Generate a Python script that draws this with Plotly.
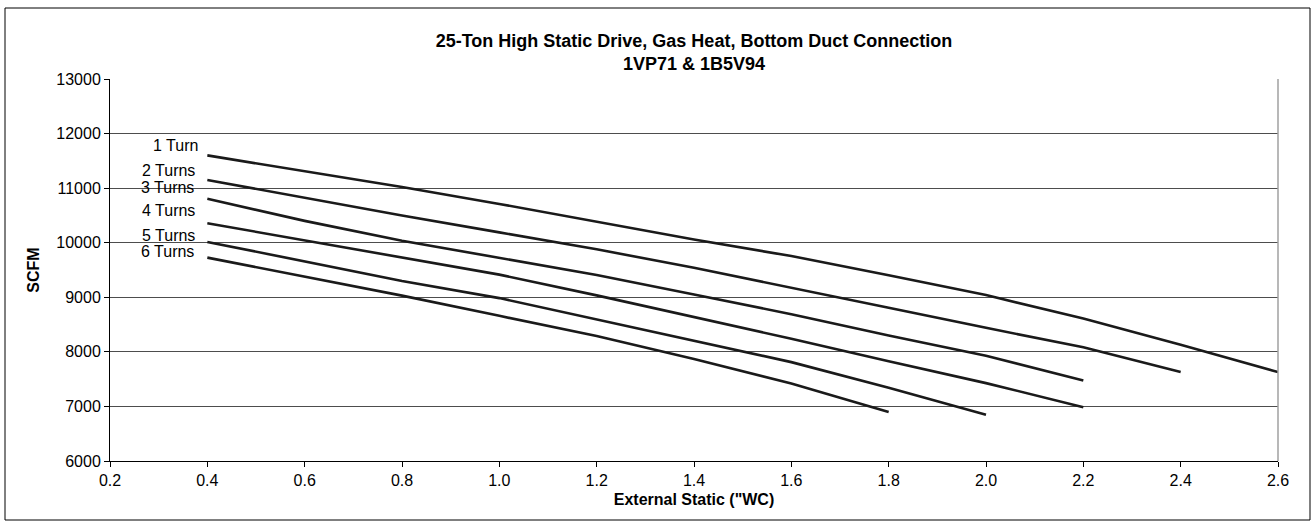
import plotly.graph_objects as go

# ---- data ----
static_wc = [0.4, 0.6, 0.8, 1.0, 1.2, 1.4, 1.6, 1.8, 2.0, 2.2, 2.4, 2.6]

turn1 = [11600, 11310, 11020, 10710, 10390, 10060, 9755, 9405, 9040, 8610, 8130, 7630]
turn2 = [11150, 10820, 10500, 10190, 9880, 9540, 9180, 8810, 8440, 8085, 7630]
turn3 = [10805, 10400, 10035, 9725, 9410, 9050, 8690, 8300, 7927, 7475]
turn4 = [10357, 10045, 9730, 9415, 9035, 8640, 8240, 7826, 7427, 6987]
turn5 = [10015, 9660, 9300, 8985, 8592, 8195, 7812, 7341, 6846]
turn6 = [9727, 9380, 9030, 8660, 8290, 7870, 7420, 6896]

series_names = ["1 Turn", "2 Turns", "3 Turns", "4 Turns", "5 Turns", "6 Turns"]
series_values = [turn1, turn2, turn3, turn4, turn5, turn6]

x_ticks = [0.2, 0.4, 0.6, 0.8, 1.0, 1.2, 1.4, 1.6, 1.8, 2.0, 2.2, 2.4, 2.6]
y_ticks = [6000, 7000, 8000, 9000, 10000, 11000, 12000, 13000]

title_line1 = "25-Ton High Static Drive, Gas Heat, Bottom Duct Connection"
title_line2 = "1VP71 & 1B5V94"
x_title = "External Static (\"WC)"
y_title = "SCFM"

# ---- styling / layout ----
W, H = 1315, 527
L, R, T, B = 110, 1278, 79, 461  # plot area in pixels
FONT = "Arial, Liberation Sans, sans-serif"

label_yshift = [10, 9, 11, 13, 6, 6]
label_xshift = [-7, -10, -11, -10, -10, -11]

fig = go.Figure()
for name, vals, ys, xs in zip(series_names, series_values, label_yshift, label_xshift):
    fig.add_trace(go.Scatter(
        x=static_wc[:len(vals)], y=vals, mode="lines", name=name,
        line=dict(color="#1a1a1a", width=2.6), showlegend=False,
    ))
    fig.add_annotation(
        x=static_wc[0], y=vals[0], xref="x", yref="y", text=name,
        showarrow=False, xanchor="right", yanchor="middle",
        xshift=xs, yshift=ys, font=dict(family=FONT, size=16, color="#000"),
    )

def px_to_paper_x(px):
    return (px - L) / (R - L)

def px_to_paper_y(py):
    return (B - py) / (B - T)

# outer chart border
fig.add_shape(type="rect", xref="paper", yref="paper",
              x0=px_to_paper_x(5), x1=px_to_paper_x(1310),
              y0=px_to_paper_y(520), y1=px_to_paper_y(8),
              line=dict(color="#000", width=1), layer="below")
# right plot-area border (gray)
fig.add_shape(type="line", xref="paper", yref="paper", x0=1, x1=1, y0=0, y1=1,
              line=dict(color="#a0a0a0", width=1.5))

fig.update_layout(
    width=W, height=H,
    margin=dict(l=L, r=W - R, t=T, b=H - B),
    paper_bgcolor="white", plot_bgcolor="white",
    font=dict(family=FONT, color="#000", size=16),
    title=dict(
        text=f"<b>{title_line1}<br>{title_line2}</b>",
        x=(L + R) / 2 / W, xanchor="center", xref="container",
        y=1 - 47 / H, yanchor="middle", yref="container",
        font=dict(family=FONT, size=18, color="#000"),
    ),
    xaxis=dict(
        range=[0.2, 2.6], tickvals=x_ticks,
        ticktext=[f"{v:.1f}" for v in x_ticks],
        showgrid=False, zeroline=False,
        showline=True, linecolor="#000", linewidth=1,
        ticks="outside", ticklen=5, tickcolor="#000",
        tickfont=dict(family=FONT, size=16),
        title=dict(text=f"<b>{x_title}</b>", font=dict(family=FONT, size=16), standoff=5),
    ),
    yaxis=dict(
        range=[6000, 13000], tickvals=y_ticks,
        ticktext=[str(v) for v in y_ticks],
        showgrid=True, gridcolor="#4d4d4d", gridwidth=1, zeroline=False,
        showline=True, linecolor="#000", linewidth=1,
        ticks="outside", ticklen=5, tickcolor="#000",
        tickfont=dict(family=FONT, size=16),
        title=dict(text=f"<b>{y_title}</b>", font=dict(family=FONT, size=16), standoff=12),
    ),
)

fig.write_html("out.html", config={"displayModeBar": False},
               post_script="document.body.style.margin='0px';")
